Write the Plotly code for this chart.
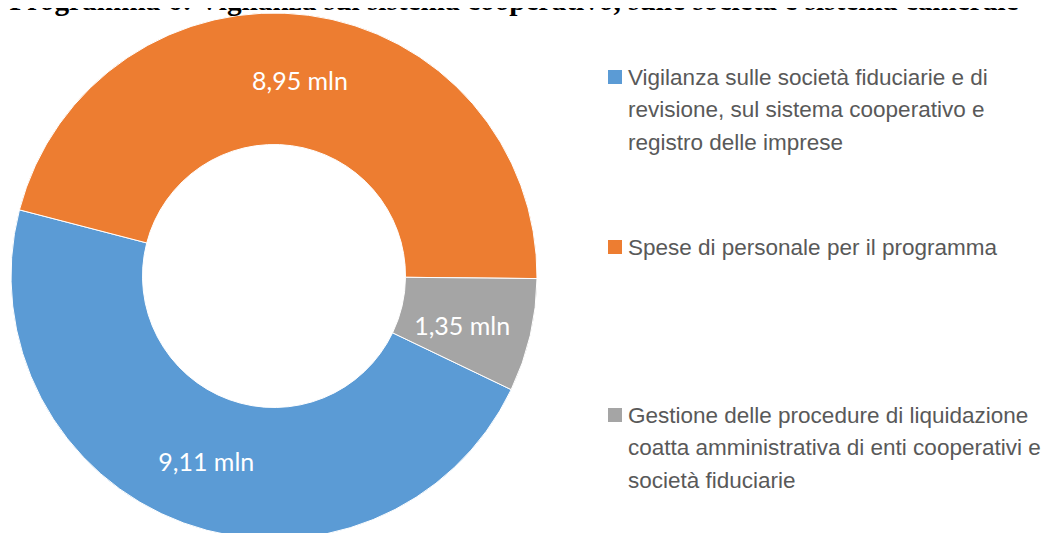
import plotly.graph_objects as go

title_text = "Programma 6: Vigilanza sul sistema cooperativo, sulle società e sistema camerale"
categories = [
    "Vigilanza sulle società fiduciarie e di<br>revisione, sul sistema cooperativo e<br>registro delle imprese",
    "Spese di personale per il programma",
    "Gestione delle procedure di liquidazione<br>coatta amministrativa di enti cooperativi e<br>società fiduciarie",
]
values = [9.11, 8.95, 1.35]
value_labels = ["9,11 mln", "8,95 mln", "1,35 mln"]
colors = ["#5B9BD5", "#ED7D31", "#A5A5A5"]

W, H = 1050, 533
OFF = 8  # page body margin offset (screen = figure + 8)


def px(x):
    return (x - OFF) / W


def py(y):
    return 1 - (y - OFF) / H


# the thin slice's label is pushed outward by plotly; pad it on the right
# so the visible text sits nearer the middle of the ring
pad_right = ["", "", "\u00a0" * 7]
label_text = [t + p for t, p in zip(value_labels, pad_right)]

fig = go.Figure(
    go.Pie(
        labels=[c.replace("<br>", " ") for c in categories],
        values=values,
        text=label_text,
        texttemplate="%{text}",
        textinfo="text",
        textposition="inside",
        insidetextorientation="horizontal",
        textfont=dict(family="Lato, Carlito, sans-serif", size=25, color="white"),
        hole=0.5,
        sort=False,
        direction="clockwise",
        rotation=115.6,
        marker=dict(colors=colors, line=dict(color="white", width=1)),
        domain=dict(x=[px(11), px(537)], y=[py(539), py(13)]),
        hoverinfo="label+value",
        showlegend=False,
    )
)

# legend drawn as squares + text lines, evenly spaced like the original
legend_item_y = [77, 247, 415]  # screen y of first text line of each entry
line_pitch = 32.5
legend_font = dict(family="Liberation Sans, Arial, sans-serif", size=22.5, color="#595959")
for cat, col, y0 in zip(categories, colors, legend_item_y):
    fig.add_shape(
        type="rect", xref="paper", yref="paper",
        x0=px(608), x1=px(622), y0=py(y0 - 7), y1=py(y0 + 7),
        fillcolor=col, line=dict(width=0),
    )
    for i, line in enumerate(cat.split("<br>")):
        fig.add_annotation(
            text=line, xref="paper", yref="paper",
            x=px(626), y=py(y0 + i * line_pitch),
            xanchor="left", yanchor="middle", showarrow=False,
            font=legend_font,
        )

fig.update_layout(
    width=W,
    height=H,
    margin=dict(l=0, r=0, t=0, b=0, autoexpand=False),
    paper_bgcolor="white",
    plot_bgcolor="white",
    uniformtext=dict(minsize=25, mode="show"),
    title=dict(
        text="<b>" + title_text + "</b>",
        font=dict(family="Liberation Serif, Times New Roman, serif", size=29.3, color="black"),
        x=px(514),
        xanchor="center",
        xref="container",
        y=1 - 2 / H,
        yanchor="bottom",
        yref="container",
        pad=dict(t=0, b=0, l=0, r=0),
    ),
    showlegend=False,
)

fig.write_html("out.html")
